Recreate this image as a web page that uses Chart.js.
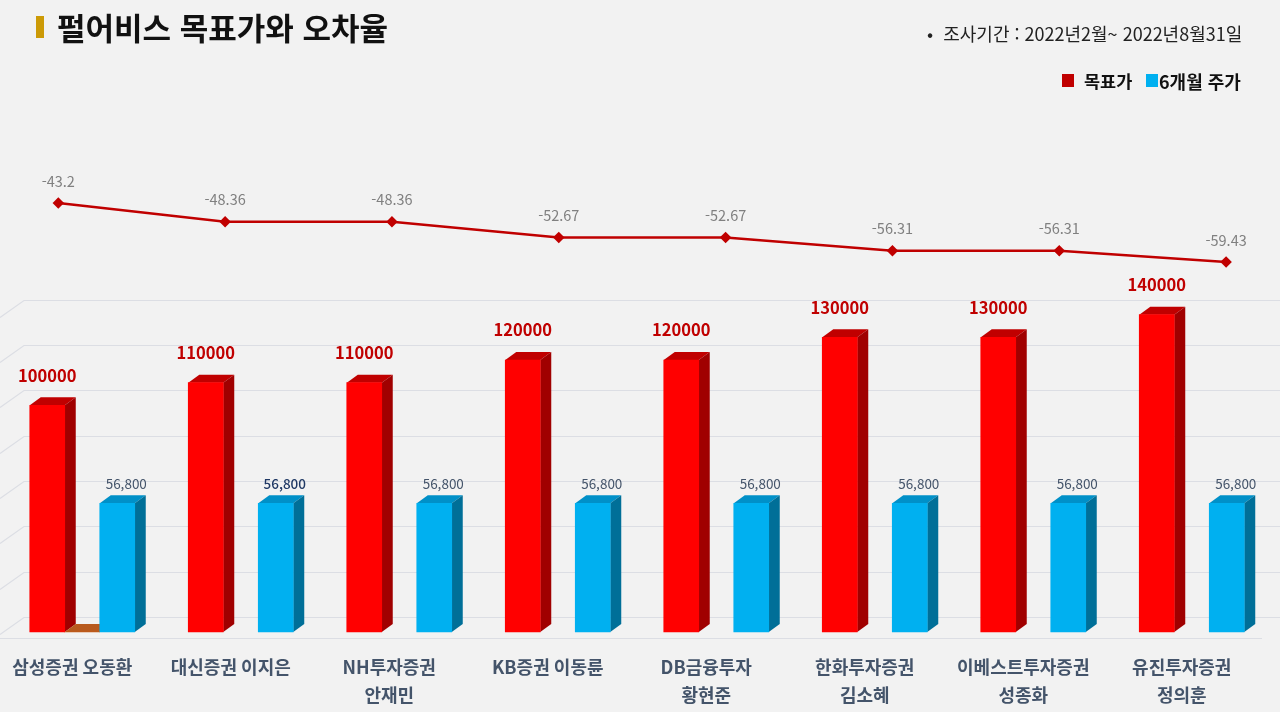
<!DOCTYPE html>
<html lang="ko">
<head>
<meta charset="utf-8">
<script src="https://cdn.jsdelivr.net/npm/chart.js@4/dist/chart.umd.min.js"></script>
<style>
  body { margin: 0; background: #F2F2F2; font-family: "Noto Sans CJK KR", "Noto Sans", sans-serif; }
  #wrap { position: relative; width: 1280px; height: 712px; overflow: hidden; }
  canvas { position: absolute; left: 0; top: 0; }
  #linha { pointer-events: none; }
  .abs { position: absolute; white-space: nowrap; }
  .mark { left: 36px; top: 16px; width: 8px; height: 22px; background: #CC9A06; }
  .title { left: 57px; top: 4px; font-size: 31px; font-weight: bold; color: #111; }
  .period { left: 927px; top: 20px; font-size: 18px; color: #222; }
  .leg { top: 68px; font-size: 17.5px; font-weight: bold; color: #111; }
  .sq { top: 74px; width: 12px; height: 13px; }
</style>
</head>
<body>
<div id="wrap">
  <canvas id="barras" width="1280" height="712"></canvas>
  <canvas id="linha" width="1280" height="712"></canvas>
  <div class="abs mark"></div>
  <div class="abs title">펄어비스 목표가와 오차율</div>
  <div class="abs period">•&nbsp;&nbsp;조사기간 : 2022년2월~ 2022년8월31일</div>
  <div class="abs sq" style="left:1062px;background:#C00000"></div>
  <div class="abs leg" style="left:1084px">목표가</div>
  <div class="abs sq" style="left:1146px;background:#00B0F0"></div>
  <div class="abs leg" style="left:1159px;font-size:18px">6개월 주가</div>
</div>
<script>
const categorias = [
  '삼성증권 오동환', '대신증권 이지은', ['NH투자증권', '안재민'], 'KB증권 이동륜',
  ['DB금융투자', '황현준'], ['한화투자증권', '김소혜'], ['이베스트투자증권', '성종화'], ['유진투자증권', '정의훈']
];
const precoAlvo = [100000, 110000, 110000, 120000, 120000, 130000, 130000, 140000];
const preco6Meses = [56800, 56800, 56800, 56800, 56800, 56800, 56800, 56800];
const serieVazia = [0, null, null, null, null, null, null, null];
const taxaErro = [-43.2, -48.36, -48.36, -52.67, -52.67, -56.31, -56.31, -59.43];

const FONTE = '"Noto Sans CJK KR", "Noto Sans", sans-serif';
const Y_MIN = -2640, Y_MAX = 234678;
const GRADE_PASSO = 20000, GRADE_DESVIO = 6600;

// parede do fundo: linhas de grelha com o canto inclinado à esquerda
const PAREDE_X = 24, PAREDE_DY = 17;
const paredeFundo = {
  id: 'paredeFundo',
  beforeDatasetsDraw(chart) {
    const ctx = chart.ctx;
    const ys = chart.scales.y;
    ctx.save();
    ctx.strokeStyle = '#DCDEE4';
    ctx.lineWidth = 1.2;
    ys.ticks.forEach((t) => {
      const p = Math.round(ys.getPixelForValue(t.value)) + 0.5;
      ctx.beginPath();
      if (t.value === Y_MIN) {
        ctx.moveTo(0, p); ctx.lineTo(1262, p);
      } else {
        ctx.moveTo(0, p + PAREDE_DY); ctx.lineTo(PAREDE_X, p); ctx.lineTo(chart.width, p);
      }
      ctx.stroke();
    });
    ctx.restore();
  }
};

// faces laterais e de topo para o efeito 3D
const DX = 11, DY = 8;
const efeito3D = {
  id: 'efeito3D',
  beforeDatasetsDraw(chart) {
    const ctx = chart.ctx;
    chart.data.datasets.forEach((ds, di) => {
      const meta = chart.getDatasetMeta(di);
      meta.data.forEach((bar, i) => {
        if (ds.data[i] == null) return;
        const { x, y, base, width } = bar.getProps(['x', 'y', 'base', 'width'], true);
        const l = x - width / 2, r = x + width / 2;
        ctx.save();
        ctx.fillStyle = ds.corTopo;
        ctx.beginPath();
        ctx.moveTo(l, y); ctx.lineTo(l + DX, y - DY); ctx.lineTo(r + DX, y - DY); ctx.lineTo(r, y);
        ctx.closePath(); ctx.fill();
        if (base - y > 0) {
          ctx.fillStyle = ds.corLado;
          ctx.beginPath();
          ctx.moveTo(r, y); ctx.lineTo(r + DX, y - DY); ctx.lineTo(r + DX, base - DY); ctx.lineTo(r, base);
          ctx.closePath(); ctx.fill();
        }
        ctx.restore();
      });
    });
  },
  afterDatasetsDraw(chart) {
    const ctx = chart.ctx;
    ctx.save();
    ctx.textAlign = 'center';
    ctx.textBaseline = 'middle';
    chart.getDatasetMeta(0).data.forEach((bar, i) => {
      ctx.font = 'bold 16.5px ' + FONTE;
      ctx.fillStyle = '#C00000';
      ctx.fillText(precoAlvo[i], bar.x, bar.y - 30);
    });
    chart.getDatasetMeta(2).data.forEach((bar, i) => {
      ctx.font = (i === 1 ? '500 ' : '') + '13.5px ' + FONTE;
      ctx.fillStyle = i === 1 ? '#1F3864' : '#44546A';
      ctx.fillText(preco6Meses[i].toLocaleString('en-US'), bar.x + 9, bar.y - 19);
    });
    ctx.restore();
  }
};

const rotulosLinha = {
  id: 'rotulosLinha',
  afterDatasetsDraw(chart) {
    const ctx = chart.ctx;
    ctx.save();
    ctx.textAlign = 'center';
    ctx.textBaseline = 'middle';
    ctx.font = '14.5px ' + FONTE;
    ctx.fillStyle = '#808080';
    chart.getDatasetMeta(0).data.forEach((pt, i) => ctx.fillText(taxaErro[i], pt.x, pt.y - 22));
    ctx.restore();
  }
};

new Chart(document.getElementById('barras'), {
  type: 'bar',
  data: {
    labels: categorias,
    datasets: [
      { label: '목표가', data: precoAlvo, backgroundColor: '#FF0000', corTopo: '#C00000', corLado: '#A00000' },
      { label: '', data: serieVazia, backgroundColor: '#C55A11', corTopo: '#B85A1E', corLado: '#8A4010' },
      { label: '6개월 주가', data: preco6Meses, backgroundColor: '#00B0F0', corTopo: '#0090C8', corLado: '#006F98' }
    ]
  },
  options: {
    responsive: false,
    animation: false,
    layout: { padding: { top: 100, bottom: -12, left: 3, right: 9 } },
    datasets: { bar: { barThickness: 35, borderWidth: 0 } },
    plugins: { legend: { display: false }, tooltip: { enabled: false } },
    scales: {
      x: {
        type: 'category', offset: true,
        grid: { display: false, drawTicks: false }, border: { display: false },
        ticks: {
          font: { family: FONTE, size: 18, weight: 'bold', lineHeight: 1.556 },
          color: '#44546A', padding: 15, labelOffset: -10, maxRotation: 0, autoSkip: false
        }
      },
      y: {
        min: Y_MIN, max: Y_MAX,
        ticks: { display: false },
        grid: { display: false, drawTicks: false },
        border: { display: false },
        afterBuildTicks: (s) => {
          const t = [{ value: Y_MIN }];
          for (let v = GRADE_DESVIO; v <= 150000; v += GRADE_PASSO) t.push({ value: v });
          s.ticks = t;
        }
      }
    }
  },
  plugins: [paredeFundo, efeito3D]
});

// a linha do 오차율 fica numa segunda camada com o seu próprio eixo x
new Chart(document.getElementById('linha'), {
  type: 'line',
  data: {
    datasets: [{
      label: '오차율', data: taxaErro.map((v, i) => ({ x: i, y: v })),
      borderColor: '#C00000', backgroundColor: '#C00000',
      borderWidth: 2.5, pointStyle: 'rectRot', pointRadius: 4, tension: 0
    }]
  },
  options: {
    responsive: false,
    animation: false,
    layout: { padding: { top: 100, bottom: 74, left: 3, right: 12 } },
    plugins: { legend: { display: false }, tooltip: { enabled: false } },
    scales: {
      x: { type: 'linear', display: false, min: -0.3104, max: 7.2511 },
      y: { type: 'linear', display: false, min: -162.87, max: -14.86 }
    }
  },
  plugins: [rotulosLinha]
});
</script>
</body>
</html>
